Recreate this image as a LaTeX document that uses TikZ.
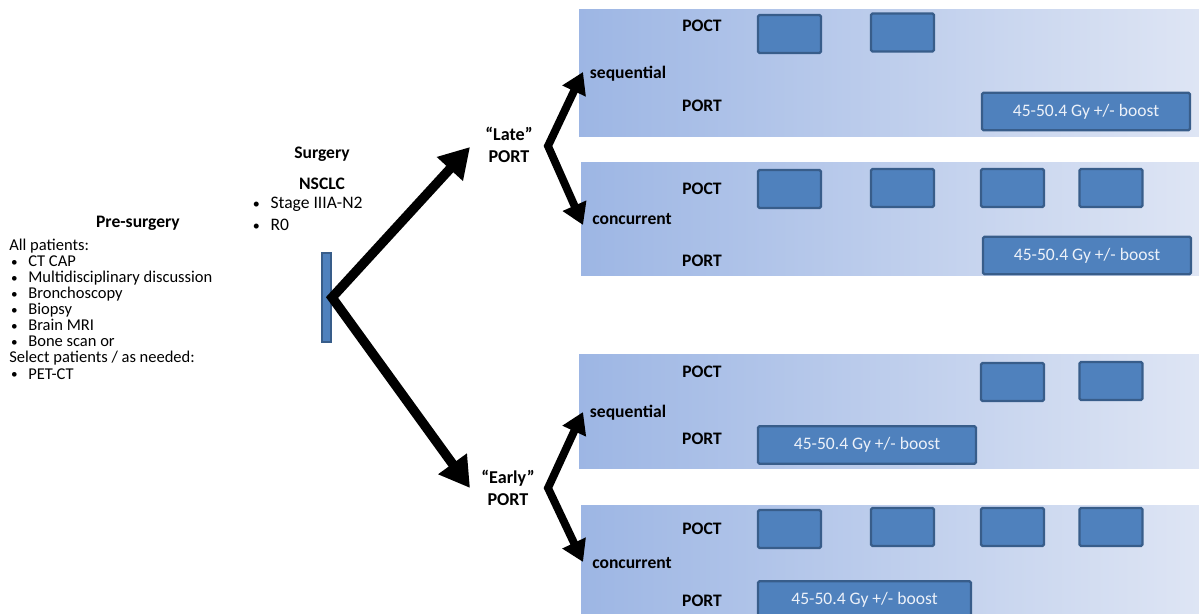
\documentclass[tikz,border=0pt]{standalone}
\usepackage{fontspec}
\setmainfont{Carlito}
\usetikzlibrary{arrows.meta}
\definecolor{boxfill}{HTML}{4F81BD}
\definecolor{boxline}{HTML}{385D8A}
\definecolor{panelL}{RGB}{157,182,228}
\definecolor{panelR}{RGB}{222,229,244}
\definecolor{boxtext}{RGB}{236,241,249}
\begin{document}
\begin{tikzpicture}[x=0.02cm,y=-0.02cm,
  panel/.style={left color=panelL, right color=panelR, draw=none},
  pbox/.style={draw=boxline, fill=boxfill, line width=1.3pt, inner sep=0,
    rounded corners=0.8pt, minimum width=1.26cm, minimum height=0.76cm},
  boost/.style={draw=boxline, fill=boxfill, line width=1.3pt, inner sep=0,
    rounded corners=0.8pt, minimum height=0.75cm, text=boxtext,
    font=\fontsize{10}{12}\selectfont},
  lbl/.style={font=\fontsize{10}{12}\selectfont\bfseries, inner sep=0},
  item/.style={font=\fontsize{9.4}{11}\selectfont, inner sep=0, anchor=base west},
  sitem/.style={font=\fontsize{10}{12}\selectfont, inner sep=0, anchor=base west},
  bigarrow/.style={line width=5.4pt, line join=miter,
    {Triangle[length=17pt,width=19pt]}-{Triangle[length=17pt,width=19pt]}},
  smallarrow/.style={line width=4.5pt, line join=miter,
    {Triangle[length=12pt,width=14pt]}-{Triangle[length=12pt,width=14pt]}}
]
\useasboundingbox (0,0) rectangle (1199,614);
\clip (0,0) rectangle (1199,614);

% panels
\path[panel] (579,10) rectangle (1199,137);
\path[panel] (581,163) rectangle (1199,276);
\path[panel] (579,355) rectangle (1199,468);
\path[panel] (581,505) rectangle (1199,614);

% pre-surgery
\node[lbl] (pre) at (138,223) {Pre-surgery};
\newcommand{\bul}{\makebox[10.8pt][l]{\hspace{1pt}\raisebox{0.4pt}{\fontsize{7.5}{8}\selectfont•}}}
\node[item] (l1) at (9,251) {All patients:};
\node[item] (l2) at (9,267) {\bul CT CAP};
\node[item] (l3) at (9,283) {\bul Multidisciplinary discussion};
\node[item] (l4) at (9,299) {\bul Bronchoscopy};
\node[item] (l5) at (9,315) {\bul Biopsy};
\node[item] (l6) at (9,331) {\bul Brain MRI};
\node[item] (l7) at (9,347) {\bul Bone scan or};
\node[item] (l8) at (9,363) {Select patients / as needed:};
\node[item] (l9) at (9,379) {\bul PET-CT};

% surgery
\node[lbl] (surg) at (322,154) {Surgery};
\node[lbl] (nsclc) at (322,184) {NSCLC};
\newcommand{\sbul}{\makebox[11.5pt][l]{\hspace{1.5pt}\raisebox{0.4pt}{\fontsize{8}{8}\selectfont•}}}
\node[sitem] (s1) at (250,209) {\sbul Stage IIIA-N2};
\node[sitem] (s2) at (250,231) {\sbul R0};
\node[draw=boxline, fill=boxfill, line width=1.2pt, inner sep=0,
  minimum width=0.18cm, minimum height=1.78cm] (bar) at (326.5,297.5) {};

% late / early
\node[lbl, align=center, font=\fontsize{10.3}{12.5}\selectfont\bfseries] (late) at (509,145) {“Late”\\PORT};
\node[lbl, align=center, font=\fontsize{10.3}{12.5}\selectfont\bfseries] (early) at (508,488) {“Early”\\PORT};

\coordinate (lateTip) at (470,147);
\coordinate (earlyTip) at (470,488);
\draw[bigarrow] (lateTip) -- (bar.east) -- (earlyTip);

\coordinate (lateFork) at (548,146);
\coordinate (lateSeqTip) at (583,72);
\coordinate (lateConTip) at (583,225);
\draw[smallarrow] (lateSeqTip) -- (lateFork) -- (lateConTip);

\coordinate (earlyFork) at (548,488);
\coordinate (earlySeqTip) at (583,412);
\coordinate (earlyConTip) at (583,562);
\draw[smallarrow] (earlySeqTip) -- (earlyFork) -- (earlyConTip);

% panel 1: late sequential
\node[lbl] (p1oc) at (702,26) {POCT};
\node[lbl] (p1seq) at (628,74) {sequential};
\node[lbl] (p1rt) at (702,106) {PORT};
\node[pbox] (p1a) at (789.5,34) {};
\node[pbox] (p1b) at (902.5,32.5) {};
\node[boost, minimum width=4.16cm] (p1boost) at (1086,111.5) {45-50.4 Gy +/- boost};

% panel 2: late concurrent
\node[lbl] (p2oc) at (702,189) {POCT};
\node[lbl] (p2con) at (632,219) {concurrent};
\node[lbl] (p2rt) at (702,261) {PORT};
\node[pbox] (p2a) at (789.5,189) {};
\node[pbox] (p2b) at (902.5,188) {};
\node[pbox] (p2c) at (1012.5,188) {};
\node[pbox] (p2d) at (1111,188) {};
\node[boost, minimum width=4.16cm] (p2boost) at (1087,255.5) {45-50.4 Gy +/- boost};

% panel 3: early sequential
\node[lbl] (p3oc) at (702,372) {POCT};
\node[lbl] (p3seq) at (628,413) {sequential};
\node[lbl] (p3rt) at (702,439) {PORT};
\node[pbox] (p3c) at (1012.5,382) {};
\node[pbox] (p3d) at (1111,381) {};
\node[boost, minimum width=4.36cm] (p3boost) at (867,445) {45-50.4 Gy +/- boost};

% panel 4: early concurrent
\node[lbl] (p4oc) at (702,529) {POCT};
\node[lbl] (p4con) at (632,563) {concurrent};
\node[lbl] (p4rt) at (702,601) {PORT};
\node[pbox] (p4a) at (789.5,529) {};
\node[pbox] (p4b) at (902.5,527) {};
\node[pbox] (p4c) at (1012.5,527) {};
\node[pbox] (p4d) at (1111,527) {};
\node[boost, minimum width=4.26cm] (p4boost) at (864.5,600) {45-50.4 Gy +/- boost};
\end{tikzpicture}
\end{document}
